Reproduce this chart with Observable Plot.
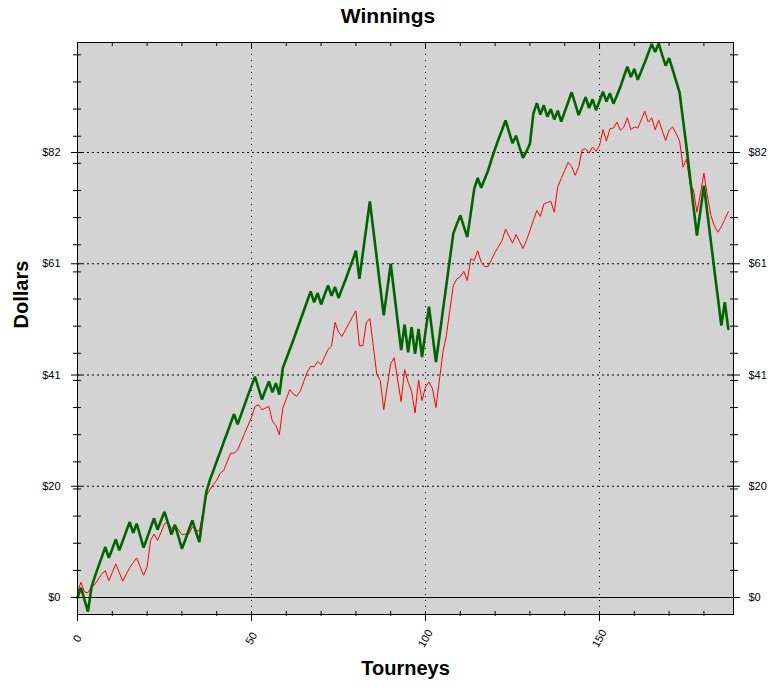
<!DOCTYPE html>
<html>
<head>
<meta charset="utf-8">
<script src="https://cdn.jsdelivr.net/npm/d3@7"></script>
<script src="https://cdn.jsdelivr.net/npm/@observablehq/plot@0.6"></script>
<style>
  html, body { margin: 0; padding: 0; background: #ffffff; }
  #title { width: 776px; height: 32px; line-height: 32px; text-align: center;
           font-family: "Liberation Sans", Arial, sans-serif; font-weight: bold; font-size: 21px; color: #000; }
  #chart svg { display: block; }
</style>
</head>
<body>
<div id="title">Winnings</div>
<div id="chart"></div>
<script>
// Cumulative winnings per tourney (index = tourney number)
const greenSeries = [
  0.0, 1.8, -0.4, -2.6, 1.8, 3.9, 5.7, 7.5, 9.3, 7.3,
  9.0, 10.7, 8.7, 10.4, 12.2, 13.9, 11.9, 13.6, 11.4, 9.2,
  11.0, 12.8, 14.6, 12.5, 14.2, 15.8, 13.7, 11.6, 13.4, 11.2,
  9.0, 10.7, 12.5, 14.2, 12.2, 10.2, 14.9, 19.4, 21.6, 23.3,
  25.1, 26.8, 28.6, 30.3, 32.1, 33.8, 31.9, 33.7, 35.5, 37.3,
  39.0, 40.7, 38.6, 36.5, 38.2, 39.8, 37.8, 39.5, 37.4, 42.3,
  44.0, 45.7, 47.4, 49.2, 51.0, 52.8, 54.6, 56.4, 54.4, 56.1,
  54.0, 55.8, 57.5, 55.6, 57.2, 55.2, 56.9, 58.5, 60.3, 62.0,
  63.9, 58.7, 63.5, 68.2, 73.0, 67.8, 62.5, 57.2, 52.0, 56.7,
  61.5, 56.2, 50.9, 45.6, 50.3, 45.2, 49.8, 44.9, 49.5, 44.3,
  49.0, 53.6, 48.5, 43.4, 48.1, 52.9, 57.6, 62.4, 67.1, 68.8,
  70.4, 68.4, 66.4, 70.8, 75.3, 77.3, 75.5, 77.1, 78.7, 80.8,
  82.7, 84.5, 86.2, 87.9, 85.8, 83.7, 85.1, 83.0, 81.0, 82.2,
  83.6, 89.2, 91.1, 89.0, 90.7, 88.6, 90.0, 88.1, 89.7, 87.7,
  89.5, 91.3, 93.1, 91.0, 88.9, 90.5, 92.2, 90.2, 91.8, 89.8,
  91.5, 93.2, 91.4, 92.9, 91.0, 92.5, 94.1, 96.0, 97.8, 95.9,
  97.4, 95.4, 97.0, 98.6, 100.3, 102.0, 100.5, 102.1, 100.0, 98.0,
  99.4, 97.3, 95.2, 93.1, 88.0, 83.0, 77.5, 72.0, 66.7, 71.3,
  75.9, 70.8, 65.6, 60.4, 55.3, 50.1, 54.4, 49.5
];
const redSeries = [
  1.0, 2.8, 1.0, 0.9, 1.9, 2.4, 3.4, 4.4, 4.9, 3.1,
  4.6, 6.2, 4.6, 3.0, 4.3, 5.5, 6.4, 7.3, 5.7, 4.1,
  5.6, 10.5, 11.7, 10.5, 12.0, 13.6, 13.9, 12.7, 13.3, 12.5,
  11.6, 11.7, 11.7, 13.0, 12.5, 12.2, 15.5, 18.8, 19.8, 20.8,
  21.6, 22.9, 23.4, 25.0, 26.6, 26.6, 27.2, 28.7, 30.2, 31.7,
  33.2, 35.2, 35.5, 34.6, 34.9, 35.2, 32.5, 31.7, 30.0, 34.9,
  36.6, 38.3, 37.5, 37.1, 38.0, 39.8, 41.5, 42.6, 42.5, 43.5,
  42.9, 44.3, 45.7, 46.3, 50.7, 48.9, 48.1, 49.3, 50.5, 51.7,
  52.8, 46.4, 46.4, 50.7, 51.4, 46.3, 41.1, 40.0, 34.6, 38.9,
  43.1, 44.2, 40.1, 36.1, 42.0, 39.7, 38.0, 34.0, 40.1, 36.3,
  38.8, 39.7, 38.5, 35.0, 40.1, 45.2, 48.3, 53.0, 57.5, 58.7,
  59.1, 60.1, 58.4, 62.4, 62.1, 63.9, 61.8, 61.0, 61.0, 62.3,
  63.6, 64.7, 65.8, 67.9, 66.6, 65.3, 66.9, 65.6, 64.3, 65.8,
  67.6, 69.5, 71.3, 70.2, 72.5, 72.8, 73.0, 71.0, 75.7, 77.2,
  78.7, 80.2, 79.4, 77.8, 79.3, 82.5, 82.7, 81.9, 83.0, 82.2,
  83.3, 86.2, 84.1, 86.4, 86.5, 87.6, 86.1, 86.7, 88.4, 86.2,
  86.7, 86.5, 88.0, 89.6, 87.6, 88.4, 86.2, 88.0, 86.1, 84.2,
  86.1, 86.7, 85.5, 84.2, 79.3, 80.8, 76.2, 75.1, 71.0, 74.4,
  78.2, 74.0, 70.4, 68.5, 67.3, 68.3, 69.7, 71.1
];
const yMajorTicks = [0, 20.5, 41, 61.5, 82];
const yMinorTicks = [0, 5, 10, 15, 20, 25, 30, 35, 40, 45, 50, 55, 60, 65, 70, 75, 80, 85, 90, 95, 100];
const xMajorTicks = [0, 50, 100, 150];
const xMinorTicks = [0, 10, 20, 30, 40, 50, 60, 70, 80, 90, 100, 110, 120, 130, 140, 150, 160, 170, 180];
const xDomain = [0, 188.5];
const yDomain = [-3.13, 102.27];

const greenData = greenSeries.map((v, i) => ({t: i, v}));
const redData = redSeries.map((v, i) => ({t: i, v}));
const dollar = d => "$" + Math.floor(d);
const blank = () => "";

const chart = Plot.plot({
  width: 776,
  height: 658,
  marginTop: 10,
  marginBottom: 76,
  marginLeft: 77,
  marginRight: 43,
  style: {background: "#ffffff", fontFamily: "'Liberation Sans', Arial, sans-serif", fontSize: "11px", color: "#000", overflow: "visible"},
  x: {domain: xDomain, axis: null},
  y: {domain: yDomain, axis: null},
  marks: [
    Plot.frame({fill: "#d3d3d3", stroke: null}),
    Plot.gridY(yMajorTicks.filter(d => d !== 0), {stroke: "#000", strokeOpacity: 1, strokeWidth: 1, strokeDasharray: "2,3"}),
    Plot.gridX(xMajorTicks.filter(d => d !== 0), {stroke: "#000", strokeOpacity: 1, strokeWidth: 1, strokeDasharray: "1,5"}),
    Plot.ruleY([0], {stroke: "#000", strokeWidth: 1}),
    Plot.line(redData, {x: "t", y: "v", stroke: "#ff0000", strokeWidth: 1}),
    Plot.line(greenData, {x: "t", y: "v", stroke: "#006400", strokeWidth: 2.6, strokeLinejoin: "miter"}),
    Plot.frame({stroke: "#000", strokeWidth: 1}),
    // left axis
    Plot.axisY({anchor: "left", ticks: yMinorTicks, tickSize: 8, dx: 4, tickFormat: blank, label: null}),
    Plot.axisY({anchor: "left", ticks: yMajorTicks, tickSize: 11, dx: 5, tickPadding: 11, tickFormat: dollar, fontSize: 11, label: null}),
    // right axis
    Plot.axisY({anchor: "right", ticks: yMinorTicks, tickSize: 8, dx: -4, tickFormat: blank, label: null}),
    Plot.axisY({anchor: "right", ticks: yMajorTicks, tickSize: 11, dx: -5, tickPadding: 9, tickFormat: dollar, fontSize: 11, label: null}),
    // bottom axis
    Plot.axisX({anchor: "bottom", ticks: xMinorTicks, tickSize: 5, dy: -3, tickFormat: blank, label: null}),
    Plot.axisX({anchor: "bottom", ticks: xMajorTicks, tickSize: 7, tickPadding: 17, tickRotate: -60, textAnchor: "middle", lineAnchor: "middle", fontSize: 11, label: null}),
    // top axis (inward ticks)
    Plot.axisX({anchor: "top", ticks: xMinorTicks, tickSize: 3, dy: 3, tickFormat: blank, label: null}),
    Plot.axisX({anchor: "top", ticks: xMajorTicks, tickSize: 6, dy: 6, tickFormat: blank, label: null}),
    // axis titles
    Plot.text(["Tourneys"], {frameAnchor: "bottom", dy: 54, text: d => d, fontSize: 20, fontWeight: "bold", lineAnchor: "middle"}),
    Plot.text(["Dollars"], {frameAnchor: "left", dx: -56, text: d => d, rotate: -90, fontSize: 20, fontWeight: "bold", lineAnchor: "middle"})
  ]
});
document.getElementById("chart").appendChild(chart);
</script>
</body>
</html>
